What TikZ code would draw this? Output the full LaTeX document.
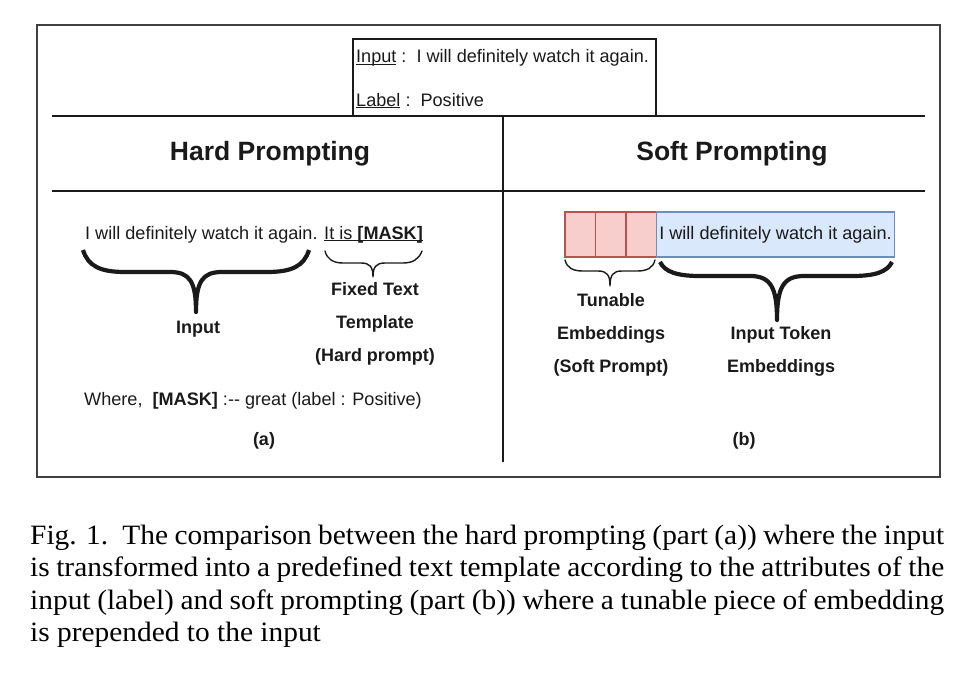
\documentclass[tikz,border=0pt]{standalone}
\usepackage{fontspec}
\setmainfont{Liberation Sans}
\newfontfamily\capfont[FakeStretch=1.05]{Liberation Serif}
\usepackage{xcolor}
\usetikzlibrary{positioning}
\definecolor{ink}{HTML}{1A1A1A}
\definecolor{frame}{HTML}{404040}
\definecolor{softfill}{HTML}{F8CECC}
\definecolor{softline}{HTML}{B85450}
\definecolor{tokfill}{HTML}{DAE8FC}
\definecolor{tokline}{HTML}{6C8EBF}

\begin{document}
\begin{tikzpicture}[
  x=1pt, y=-1pt,
  txt/.style={font=\fontsize{18.1}{20}\selectfont, text=ink, inner sep=0pt},
  lbl/.style={font=\fontsize{18}{33}\selectfont\bfseries, text=ink, align=center, inner sep=0pt},
  head/.style={font=\fontsize{26.5}{30}\selectfont\bfseries, text=ink, inner sep=0pt},
  captionline/.style={font=\capfont\fontsize{28}{32}\selectfont, text=black, inner sep=0pt, anchor=base west},
  rule/.style={draw=ink, line width=1.6pt},
  thinbrace/.style={draw=ink, line width=1.4pt, line join=round, line cap=round},
  thickbrace/.style={draw=ink, line width=4.2pt, line join=round},
  cell/.style={draw=softline, fill=softfill, line width=1.2pt, minimum width=30.5pt, minimum height=45pt, inner sep=0pt, outer sep=0pt},
  tokbox/.style={draw=tokline, fill=tokfill, line width=1.2pt, minimum width=238pt, minimum height=45pt, inner sep=0pt, outer sep=0pt, font=\fontsize{18.1}{20}\selectfont, text=ink}
]
\useasboundingbox (0,0) rectangle (979,677);
% frame and dividers
\draw[draw=frame, line width=2pt] (37,25) rectangle (940,477);
\draw[rule] (52,116) -- (925,116);
\draw[rule] (52,191) -- (925,191);
\draw[rule] (503,116) -- (503,462);
\draw[rule] (353,116) |- (656,39) -- (656,116);

% example sentence
\node[txt, anchor=base west] (inp) at (356,63) {\underline{\smash{Input}} :\ \ I will definitely watch it again.};
\node[txt, anchor=base west] (lab) at (356,106) {\underline{\smash{Label}} :\ \ Positive};

\node[head, anchor=base] (hard) at (270,160) {Hard Prompting};
\node[head, anchor=base] (soft) at (732,160) {Soft Prompting};

% (a) hard prompting
\node[txt, anchor=base west] (sent) at (85,239) {I will definitely watch it again. \underline{\smash{It is \textbf{[MASK]}}}};
\draw[thickbrace] (83,250) .. controls (88,266) and (100,272) .. (125,272) -- (170,272)
  .. controls (190,272) and (196,282) .. (196,312) .. controls (196,282) and (202,272) .. (222,272)
  -- (267,272) .. controls (292,272) and (304,266) .. (309,250);
\draw[thinbrace] (325,251) .. controls (327,259) and (333,263) .. (343,263) -- (361,263)
  .. controls (370,263) and (373,267) .. (373,277) .. controls (373,267) and (376,263) .. (385,263)
  -- (403,263) .. controls (413,263) and (419,259) .. (422,251);
\node[lbl, anchor=base] (inlbl) at (198,333) {Input};
\node[lbl, anchor=north] (fixed) at (375,282) {Fixed Text\\Template\\(Hard prompt)};
\node[txt, anchor=base west] (where) at (84,405) {Where,\ \ \textbf{[MASK]} :-{}- great (label : Positive)};
\node[lbl, anchor=base] (parta) at (264,445) {(a)};

% (b) soft prompting
\node[cell, anchor=north west] (soft1) at (565,212) {};
\node[cell, right=0pt of soft1] (soft2) {};
\node[cell, right=0pt of soft2] (soft3) {};
\node[tokbox, right=0pt of soft3] (tokens) {I will definitely watch it again.};
\draw[thinbrace] (565,260) .. controls (567,268) and (573,271) .. (583,271) -- (598,271)
  .. controls (607,271) and (610,275) .. (610,286) .. controls (610,275) and (613,271) .. (622,271)
  -- (637,271) .. controls (647,271) and (653,268) .. (655,260);
\draw[thickbrace] (660,262) .. controls (665,272) and (677,276) .. (700,276) -- (750,276)
  .. controls (771,276) and (777,288) .. (777,320) .. controls (777,288) and (783,276) .. (804,276)
  -- (852,276) .. controls (875,276) and (887,272) .. (892,262);
\node[lbl, anchor=north] (tunable) at (611,293) {Tunable\\Embeddings\\(Soft Prompt)};
\node[lbl, anchor=north] (tokemb) at (781,326) {Input Token\\Embeddings};
\node[lbl, anchor=base] (partb) at (744,445) {(b)};

% caption
\node[captionline] (cap1) at (30,544) {\makebox[914pt][s]{Fig. 1. \,The comparison between the hard prompting (part (a)) where the input}};
\node[captionline] (cap2) at (30,576) {\makebox[914pt][s]{is transformed into a predefined text template according to the attributes of the}};
\node[captionline] (cap3) at (30,609) {\makebox[914pt][s]{input (label) and soft prompting (part (b)) where a tunable piece of embedding}};
\node[captionline] (cap4) at (30,641) {is prepended to the input};
\end{tikzpicture}
\end{document}
